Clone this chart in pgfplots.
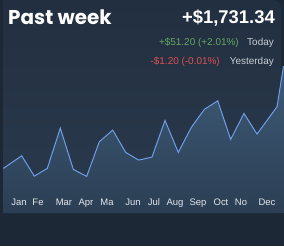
\documentclass[border=0pt]{standalone}
\usepackage{pgfplots}
\pgfplotsset{compat=1.18}
\usepackage{fontspec}
\setmainfont{Liberation Sans}
\newfontfamily\poppins{Poppins}
\definecolor{outerbg}{HTML}{1D2836}
\definecolor{paneltop}{HTML}{222F40}
\definecolor{panelbot}{HTML}{2A3A4D}
\definecolor{filltop}{HTML}{3E5B78}
\definecolor{fillbot}{HTML}{2B3E53}
\definecolor{linec}{HTML}{6F9EE8}
\definecolor{upc}{HTML}{62A862}
\definecolor{downc}{HTML}{E05050}
\definecolor{greyt}{HTML}{C8CDD4}
\definecolor{monthc}{HTML}{E2E6EC}
\pgfplotstableread{
x y
3.3 77.7
21.7 90.3
34.3 70
47.3 77.7
60.3 118
73.3 76.7
86.7 69.7
99.3 104.3
112.7 116
125.7 93.7
138.7 86
152 89
165 125.7
178.3 93.7
191.3 118.7
204.3 136.7
217.7 145.3
230.7 106.7
244 132.7
257 112
277 139.3
283.5 180
}\series
\begin{document}
\begin{tikzpicture}
\begin{axis}[
  set layers=standard,
  scale only axis, width=284bp, height=213bp,
  xmin=0, xmax=284, ymin=33, ymax=246,
  enlargelimits=false, clip=false,
  axis line style={draw=none},
  major tick length=0pt,
  ytick=\empty,
  xtick={19,38,64,86,107,133,154,175,198,221,241,267},
  xticklabels={Jan,Fe,Mar,Apr,Ma,Jun,Jul,Aug,Sep,Oct,No,Dec},
  xticklabel style={anchor=base, yshift=8bp, font=\fontsize{9.5}{11}\selectfont, text=monthc, inner sep=0pt},
]
\begin{pgfonlayer}{axis background}
\fill[outerbg] (axis cs:0,0) rectangle (axis cs:284,246);
\shade[top color=paneltop, bottom color=panelbot] (axis cs:3,246) [rounded corners=8bp] -- (axis cs:3,33) -- (axis cs:281,33) -- (axis cs:281,246) [sharp corners] -- cycle;
\end{pgfonlayer}
\addplot[on layer=axis background, draw=none, top color=filltop, bottom color=fillbot] table {\series} \closedcycle;
\addplot[linec, line width=1bp, mark=none] table {\series};
\node[anchor=base west, inner sep=0pt, text=white, font=\poppins\bfseries\fontsize{20}{24}\selectfont] at (axis cs:8,222) {Past week};
\node[anchor=base east, inner sep=0pt, text=white, font=\bfseries\fontsize{18.5}{22}\selectfont] at (axis cs:275,223) {+\$1,731.34};
\node[anchor=base east, inner sep=0pt, text=greyt, font=\fontsize{10}{12}\selectfont] at (axis cs:274,200.5) {Today};
\node[anchor=base east, inner sep=0pt, text=upc, font=\fontsize{10}{12}\selectfont] at (axis cs:239,200.5) {+\$51.20 (+2.01\%)};
\node[anchor=base east, inner sep=0pt, text=greyt, font=\fontsize{10}{12}\selectfont] at (axis cs:274,181.5) {Yesterday};
\node[anchor=base east, inner sep=0pt, text=downc, font=\fontsize{10}{12}\selectfont] at (axis cs:220,181.5) {-\$1.20 (-0.01\%)};
\end{axis}
\end{tikzpicture}
\end{document}
